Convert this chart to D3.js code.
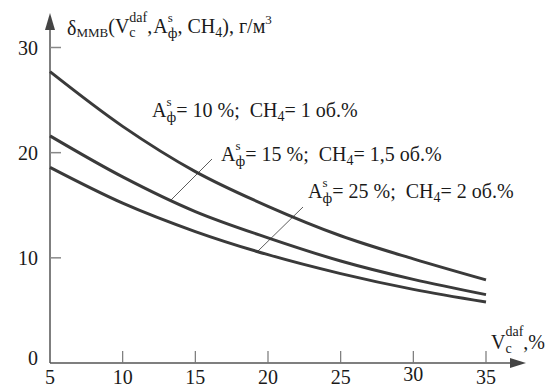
<!DOCTYPE html>
<html>
<head>
<meta charset="utf-8">
<script src="https://cdn.jsdelivr.net/npm/d3@7"></script>
<style>
  body { margin: 0; background: #fff; }
  text { font-family: "Liberation Serif", "DejaVu Serif", serif; fill: #1a1a1a; white-space: pre; }
</style>
</head>
<body>
<div id="chart"></div>
<script>
// volatile matter, %
var volatile = [5, 10, 15, 20, 25, 30, 35];
// delta values, g/m3, for three ash / methane cases
var ash10 = [27.7, 22.5, 18.2, 14.9, 12.1, 9.9, 7.9];
var ash15 = [21.6, 17.7, 14.4, 11.9, 9.7, 7.95, 6.5];
var ash25 = [18.6, 15.2, 12.5, 10.3, 8.5, 7.0, 5.8];
var xTicks = [5, 10, 15, 20, 25, 30, 35];
var yTicks = [0, 10, 20, 30];

var width = 552, height = 389;
var fs = 20, fsSmall = 13;

var svg = d3.select("#chart").append("svg")
  .attr("width", width)
  .attr("height", height);

var x = d3.scaleLinear().domain([5, 35]).range([50, 486]);
var y = d3.scaleLinear().domain([0, 30]).range([363, 47.5]);

// rich text: pieces laid out one after another, "stack" puts a piece over the previous one
function rich(g, x0, y0, parts) {
  var cx = x0, prevStart = x0;
  parts.forEach(function(p) {
    var start = p.stack ? prevStart : cx + (p.dx || 0);
    var t = g.append("text")
      .attr("x", start)
      .attr("y", y0 + (p.dy || 0))
      .attr("font-size", p.size || fs)
      .text(p.t);
    var w = t.node().getComputedTextLength();
    if (p.stack) {
      cx = Math.max(cx, start + w);
    } else {
      prevStart = start;
      cx = start + w;
    }
  });
}

// axes
var axisColor = "#555";
svg.append("line")
  .attr("x1", x(5)).attr("x2", 512)
  .attr("y1", y(0)).attr("y2", y(0))
  .attr("stroke", axisColor).attr("stroke-width", 1.5);
svg.append("path")
  .attr("d", "M526," + y(0) + " L510," + (y(0) - 5) + " L510," + (y(0) + 5) + " Z")
  .attr("fill", "#444");
svg.append("line")
  .attr("x1", x(5)).attr("x2", x(5))
  .attr("y1", y(0)).attr("y2", 28)
  .attr("stroke", axisColor).attr("stroke-width", 1.5);
svg.append("path")
  .attr("d", "M" + x(5) + ",13 L" + (x(5) - 5) + ",30 L" + (x(5) + 5) + ",30 Z")
  .attr("fill", "#444");

// x ticks
svg.selectAll(".xtick")
  .data(xTicks.filter(function(d) { return d > 5; }))
  .enter().append("line")
    .attr("class", "xtick")
    .attr("x1", function(d) { return x(d); })
    .attr("x2", function(d) { return x(d); })
    .attr("y1", y(0)).attr("y2", y(0) - 12)
    .attr("stroke", "#777").attr("stroke-width", 1.2);
svg.selectAll(".xlab")
  .data(xTicks)
  .enter().append("text")
    .attr("class", "xlab")
    .attr("x", function(d) { return x(d); })
    .attr("y", function(d) { return d === 30 ? 381 : 384; })
    .attr("text-anchor", "middle")
    .attr("font-size", fs)
    .text(function(d) { return d; });

// y ticks
svg.selectAll(".ytick")
  .data(yTicks.filter(function(d) { return d > 0; }))
  .enter().append("line")
    .attr("class", "ytick")
    .attr("x1", x(5)).attr("x2", x(5) + 11)
    .attr("y1", function(d) { return y(d); })
    .attr("y2", function(d) { return y(d); })
    .attr("stroke", "#888").attr("stroke-width", 1.5);
svg.selectAll(".ylab")
  .data(yTicks)
  .enter().append("text")
    .attr("class", "ylab")
    .attr("x", 38)
    .attr("y", function(d) { return d === 0 ? y(d) + 2 : y(d) + 7; })
    .attr("text-anchor", "end")
    .attr("font-size", fs)
    .text(function(d) { return d; });

// curves
var line = d3.line()
  .x(function(d, i) { return x(volatile[i]); })
  .y(function(d) { return y(d); })
  .curve(d3.curveCatmullRom);

[ash10, ash15, ash25].forEach(function(s) {
  svg.append("path")
    .datum(s)
    .attr("d", line)
    .attr("fill", "none")
    .attr("stroke", "#3a3a3a")
    .attr("stroke-width", 3);
});

// leader lines
svg.append("line")
  .attr("x1", 212).attr("y1", 159).attr("x2", 171).attr("y2", 200)
  .attr("stroke", "#333").attr("stroke-width", 0.8);
svg.append("line")
  .attr("x1", 303).attr("y1", 207).attr("x2", 258).attr("y2", 251)
  .attr("stroke", "#333").attr("stroke-width", 0.8);

// title
var title = svg.append("g");
rich(title, 67, 33, [
  { t: "δ", dy: 2 },
  { t: "ММВ", size: fsSmall, dy: 4 },
  { t: "(V" },
  { t: "c", size: 14, dy: 4 },
  { t: "daf", size: 14, dy: -11, stack: true },
  { t: "," },
  { t: "A", dx: 1 },
  { t: "s", size: fsSmall, dy: -11 },
  { t: "ф", size: 15, dy: 5, stack: true },
  { t: ", CH" },
  { t: "4", size: 14, dy: 4 },
  { t: "), г/м" },
  { t: "3", size: fsSmall, dy: -9 }
]);

// curve labels
function caseLabel(x0, y0, ash, ch4) {
  var g = svg.append("g");
  rich(g, x0, y0, [
    { t: "A" },
    { t: "s", size: fsSmall, dy: -11 },
    { t: "ф", size: 15, dy: 5, stack: true },
    { t: "= " + ash + " %;  CH" },
    { t: "4", size: 14, dy: 4 },
    { t: "= " + ch4 + " об.%" }
  ]);
}
caseLabel(152, 117, "10", "1");
caseLabel(221, 161, "15", "1,5");
caseLabel(308, 198, "25", "2");

// x axis label
var xl = svg.append("g");
rich(xl, 491, 349, [
  { t: "V" },
  { t: "c", size: 14, dy: 4 },
  { t: "daf", size: 14, dy: -13, stack: true },
  { t: ",%" }
]);
</script>
</body>
</html>
